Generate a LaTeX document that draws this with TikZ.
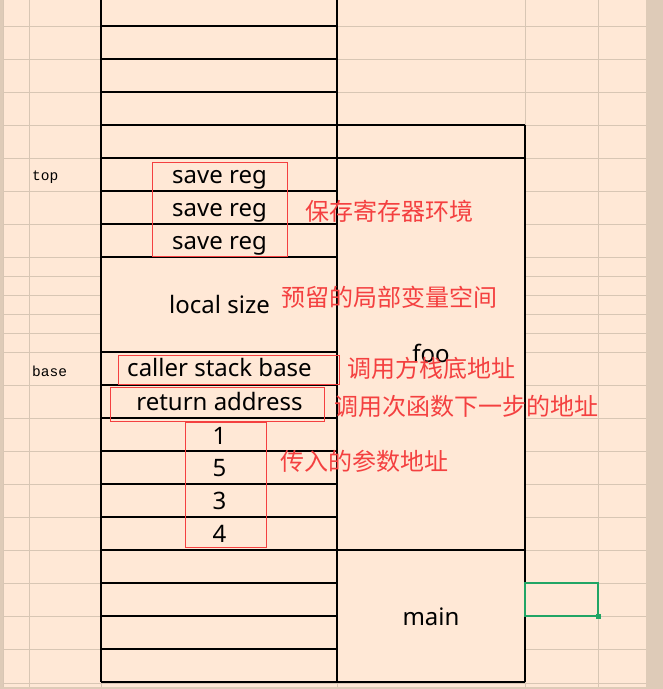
\documentclass[tikz,border=0pt]{standalone}
\usepackage{fontspec}
\setmainfont{Noto Sans}
\newfontfamily\cjk{Noto Sans CJK SC}
\newfontfamily\mono{Liberation Mono}
\definecolor{bgc}{RGB}{255,232,214}
\definecolor{gridc}{RGB}{216,198,180}
\definecolor{stripc}{RGB}{222,203,184}
\definecolor{redc}{RGB}{244,64,64}
\definecolor{greenc}{RGB}{33,165,101}
\tikzset{
  cell/.style={anchor=base, inner sep=0pt, font=\fontsize{24}{24}\selectfont, text=black},
  note/.style={anchor=base west, inner sep=0pt, font=\cjk\fontsize{24}{24}\selectfont, text=redc},
  tag/.style={anchor=base west, inner sep=0pt, font=\mono\fontsize{14.5}{14.5}\selectfont, text=black},
  gridline/.style={draw=gridc, line width=1pt},
  border/.style={draw=black, line width=1.1pt},
  redbox/.style={draw=redc, line width=1pt},
}
\begin{document}
\begin{tikzpicture}[x=1pt, y=-1pt]
\useasboundingbox (0,0) rectangle (663,689);
\fill[bgc] (0,0) rectangle (663,689);
% strips
\fill[stripc] (0,0) rectangle (3,689);
\fill[stripc] (646,0) rectangle (663,689);
\fill[stripc] (0,687) rectangle (663,689);
% gray grid
\foreach \x in {3,29,101,337,525,598} \draw[gridline] (\x,0) -- (\x,687);
\foreach \y in {26,59,92,125,158,191,224,257,276,295,314,333,352,385,418,451,484,517,550,583,616,649,683}
  \draw[gridline] (3,\y) -- (646,\y);
% merged cells
\fill[bgc] (101.5,257.5) rectangle (336.5,351.5);
\fill[bgc] (337.5,125.5) rectangle (524.5,681.5);
% black borders
\draw[border] (101,0) -- (101,682);
\draw[border] (337,0) -- (337,682);
\draw[border] (525,125) -- (525,682);
\foreach \y in {26,59,92,191,224,257,352,385,418,451,484,517,583,616,649}
  \draw[border] (101,\y) -- (337,\y);
\foreach \y in {125,158,550,682}
  \draw[border] (101,\y) -- (525,\y);
% cell texts
\node[cell] (s1) at (219.5,183) {save reg};
\node[cell] (s2) at (219.5,216) {save reg};
\node[cell] (s3) at (219.5,249) {save reg};
\node[cell] (ls) at (219.5,313) {local size};
\node[cell] (cb) at (219.5,376) {caller stack base};
\node[cell] (ra) at (219.5,410) {return address};
\node[cell] (n1) at (219.5,444) {1};
\node[cell] (n5) at (219.5,476.5) {5};
\node[cell] (n3) at (219.5,509.5) {3};
\node[cell] (n4) at (219.5,542.5) {4};
\node[cell] (foo) at (431,362.5) {foo};
\node[cell] (main) at (431,625) {main};
% left tags
\node[tag] (top) at (32,180.5) {top};
\node[tag] (base) at (32,376.5) {base};
% red boxes
\draw[redbox] (152.3,162.3) rectangle (287.3,256.3);
\draw[redbox] (118,355.3) rectangle (339,384);
\draw[redbox] (110.3,387.3) rectangle (324.3,421);
\draw[redbox] (185.7,422) rectangle (266,547);
% red notes
\node[note] (r1) at (305.5,220) {保存寄存器环境};
\node[note] (r2) at (281.5,306) {预留的局部变量空间};
\node[note] (r3) at (347,377) {调用方栈底地址};
\node[note] (r4) at (334,415) {调用次函数下一步的地址};
\node[note] (r5) at (280,470) {传入的参数地址};
% selected cell
\draw[greenc, line width=2pt] (525,583) rectangle (598,616);
\fill[greenc] (595.5,613.5) rectangle (600.5,618.5);
\end{tikzpicture}
\end{document}
